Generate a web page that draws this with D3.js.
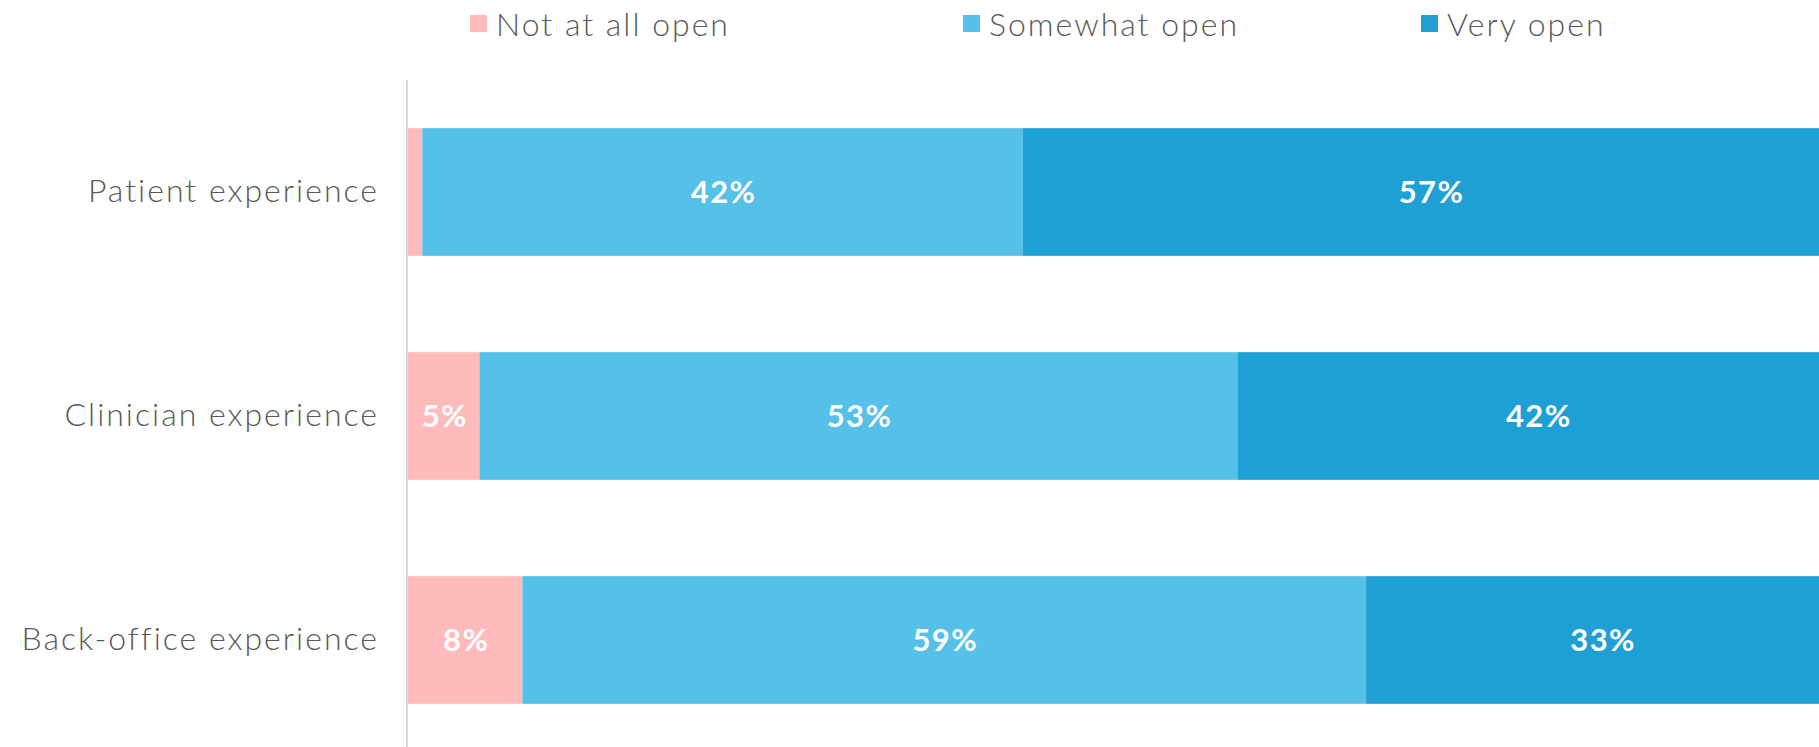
<!DOCTYPE html>
<html>
<head>
<meta charset="utf-8">
<script src="https://cdn.jsdelivr.net/npm/d3@7"></script>
<style>
  html, body { margin: 0; padding: 0; background: #fff; }
  svg { display: block; }
  text { font-family: "Lato", "Noto Sans", sans-serif; }
</style>
</head>
<body>
<svg id="chart" width="1819" height="747"></svg>
<script>
const categories = ["Patient experience", "Clinician experience", "Back-office experience"];
const seriesNames = ["Not at all open", "Somewhat open", "Very open"];
const notAtAllOpen = [1, 5, 8];
const somewhatOpen = [42, 53, 59];
const veryOpen = [57, 42, 33];
const seriesColors = ["#FFBBBB", "#55C0E8", "#1EA0D4"];

const rows = categories.map((c, i) => ({
  category: c,
  "Not at all open": notAtAllOpen[i],
  "Somewhat open": somewhatOpen[i],
  "Very open": veryOpen[i]
}));

const svg = d3.select("#chart");
const x0 = 408, x1 = 1838;

const x = d3.scaleLinear().domain([0, 100]).range([x0, x1]);
const y = d3.scaleBand().domain(categories).range([80, 752])
  .paddingInner(0.43).paddingOuter(0.215);
const color = d3.scaleOrdinal().domain(seriesNames).range(seriesColors);

const stacked = d3.stack().keys(seriesNames)(rows);

const layers = svg.append("g").selectAll("g")
  .data(stacked).join("g")
  .attr("fill", d => color(d.key));

layers.selectAll("rect")
  .data(d => d.map(v => Object.assign(v, { key: d.key })))
  .join("rect")
  .attr("x", d => x(d[0]))
  .attr("y", d => y(d.data.category))
  .attr("width", d => x(d[1]) - x(d[0]))
  .attr("height", y.bandwidth());

// data labels
layers.selectAll("text")
  .data(d => d.filter(v => (v[1] - v[0]) >= 3))
  .join("text")
  .attr("x", d => (x(d[0]) + x(d[1])) / 2 + 1)
  .attr("y", d => y(d.data.category) + y.bandwidth() / 2)
  .attr("dy", "0.36em")
  .attr("text-anchor", "middle")
  .attr("fill", "#ffffff")
  .attr("font-weight", "bold")
  .attr("font-size", 31)
  .style("letter-spacing", "1.4px")
  .text(d => (d[1] - d[0]) + "%");

// vertical axis
const yAxis = d3.axisLeft(y).tickSize(0).tickPadding(28);
const ag = svg.append("g").attr("transform", `translate(${x0 - 1},0)`).call(yAxis);
ag.select(".domain").attr("stroke", "#D9D9D9").attr("stroke-width", 2)
  .attr("d", `M0,80V747`);
ag.selectAll(".tick text")
  .attr("font-size", 32)
  .attr("fill", "#595959")
  .attr("font-weight", 300)
  .style("letter-spacing", "2px")
  .style("font-family", "Lato, 'Noto Sans', sans-serif");

// legend
const legendX = [470, 963, 1421];
const lg = svg.append("g");
seriesNames.forEach((s, i) => {
  const g = lg.append("g").attr("transform", `translate(${legendX[i]},0)`);
  g.append("rect").attr("x", 0).attr("y", 15).attr("width", 17).attr("height", 17)
    .attr("fill", color(s));
  g.append("text").attr("x", 26).attr("y", 24).attr("dy", "0.36em")
    .attr("font-size", 32).attr("font-weight", 300).attr("fill", "#595959")
    .style("letter-spacing", "2px").text(s);
});
</script>
</body>
</html>
